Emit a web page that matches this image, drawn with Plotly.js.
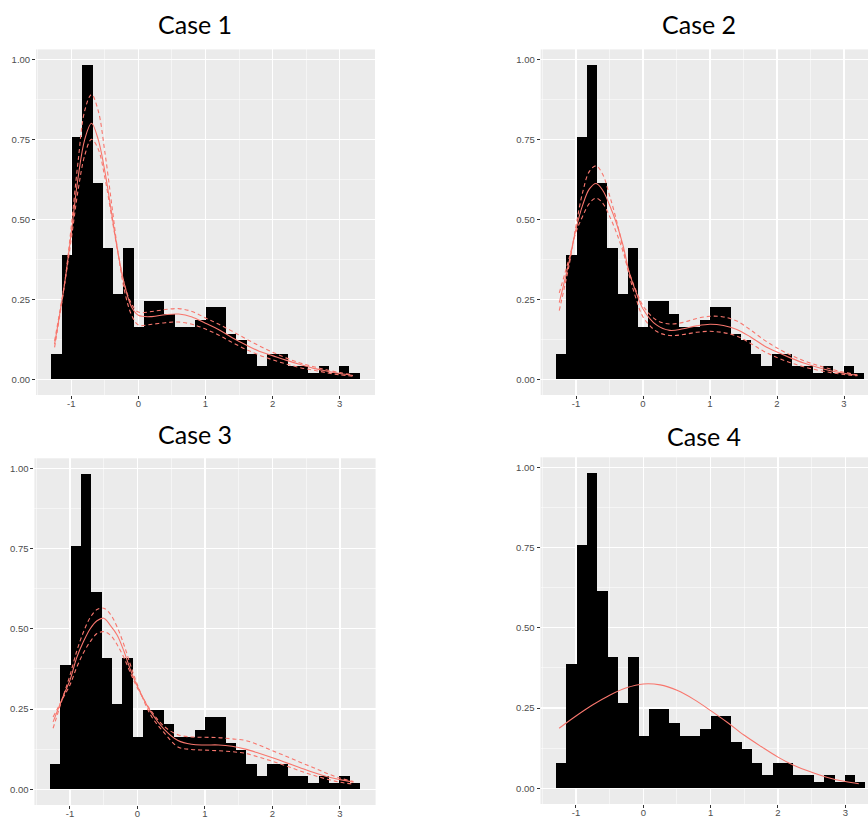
<!DOCTYPE html>
<html>
<head>
<meta charset="utf-8">
<script src="https://cdn.plot.ly/plotly-3.0.1.min.js"></script>
<style>html,body{margin:0;padding:0;background:#fff;}#chart{width:868px;height:818px;}</style>
</head>
<body>
<div id="chart"></div>
<script>
// Histogram (same data in every panel): 30 bins
const binStart = -1.297;
const binWidth = 0.1532;
const density = [0.080,0.388,0.758,0.982,0.614,0.409,0.266,0.409,0.164,0.246,0.246,0.203,0.164,0.164,0.185,0.226,0.226,0.143,0.122,0.080,0.041,0.080,0.080,0.041,0.041,0.020,0.041,0.020,0.041,0.020];

// Density curves (cases 1-3) sampled at these x values
const xs = [-1.25,-1.1,-1.0,-0.9,-0.8,-0.7,-0.6,-0.5,-0.4,-0.3,-0.2,-0.1,0,0.2,0.4,0.6,0.8,1.0,1.2,1.4,1.6,1.8,2.0,2.2,2.4,2.6,2.8,3.0,3.2];

const case1Fit   = [0.11,0.30,0.46,0.63,0.75,0.80,0.75,0.65,0.52,0.39,0.29,0.225,0.20,0.196,0.202,0.204,0.195,0.175,0.155,0.13,0.108,0.088,0.074,0.06,0.047,0.035,0.026,0.018,0.012];
const case1DashA = [0.10,0.30,0.48,0.68,0.84,0.89,0.84,0.71,0.55,0.39,0.27,0.20,0.17,0.172,0.177,0.179,0.172,0.157,0.138,0.115,0.094,0.076,0.061,0.048,0.037,0.029,0.021,0.014,0.010];
const case1DashB = [0.12,0.30,0.44,0.59,0.70,0.75,0.72,0.63,0.51,0.39,0.29,0.235,0.21,0.212,0.218,0.221,0.212,0.192,0.172,0.15,0.127,0.105,0.085,0.067,0.052,0.04,0.03,0.021,0.014];

const case2Fit   = [0.24,0.37,0.47,0.545,0.595,0.612,0.59,0.545,0.49,0.42,0.33,0.27,0.22,0.17,0.153,0.158,0.167,0.172,0.168,0.156,0.133,0.106,0.085,0.067,0.051,0.038,0.027,0.019,0.012];
const case2DashA = [0.215,0.36,0.48,0.585,0.65,0.667,0.64,0.575,0.50,0.41,0.32,0.25,0.195,0.15,0.137,0.14,0.147,0.15,0.146,0.135,0.113,0.088,0.068,0.052,0.039,0.029,0.021,0.015,0.011];
const case2DashB = [0.27,0.38,0.46,0.51,0.55,0.566,0.55,0.51,0.46,0.40,0.33,0.275,0.23,0.185,0.173,0.178,0.19,0.197,0.195,0.182,0.155,0.124,0.098,0.076,0.058,0.044,0.032,0.022,0.014];

const case3Fit   = [0.21,0.29,0.34,0.41,0.46,0.50,0.525,0.533,0.51,0.48,0.43,0.37,0.32,0.24,0.186,0.152,0.14,0.138,0.138,0.134,0.125,0.112,0.098,0.083,0.068,0.053,0.04,0.03,0.022];
const case3DashA = [0.19,0.29,0.355,0.43,0.49,0.535,0.56,0.564,0.545,0.505,0.45,0.385,0.325,0.23,0.175,0.132,0.124,0.122,0.12,0.117,0.112,0.1,0.087,0.073,0.058,0.044,0.032,0.022,0.016];
const case3DashB = [0.225,0.285,0.325,0.38,0.425,0.46,0.485,0.491,0.48,0.45,0.41,0.36,0.315,0.245,0.195,0.17,0.163,0.162,0.161,0.157,0.152,0.138,0.12,0.103,0.085,0.068,0.05,0.035,0.024];

// Case 4: single curve
const xs4 = [-1.25,-1,-0.75,-0.5,-0.25,0,0.25,0.5,0.75,1,1.25,1.5,1.75,2,2.25,2.5,2.75,3,3.2];
const case4Fit = [0.187,0.225,0.26,0.29,0.313,0.325,0.322,0.305,0.277,0.242,0.205,0.165,0.13,0.097,0.07,0.05,0.033,0.021,0.014];

const titles = ["Case 1","Case 2","Case 3","Case 4"];
const xTickVals = [-1,0,1,2,3];
const yTickVals = [0,0.25,0.5,0.75,1.0];

const RED = "#F8766D";
const binCenters = density.map((_, i) => binStart + binWidth * (i + 0.5));

const traces = [];
function addPanel(k, curves) {
  const xa = k === 1 ? "x" : "x" + k;
  const ya = k === 1 ? "y" : "y" + k;
  traces.push({
    type: "bar", x: binCenters, y: density, width: binWidth,
    marker: {color: "#000000", line: {width: 0}},
    xaxis: xa, yaxis: ya, hoverinfo: "skip", showlegend: false
  });
  curves.forEach(c => {
    traces.push({
      type: "scatter", mode: "lines", x: c.x, y: c.y,
      line: {color: RED, width: 1.1, shape: "spline", smoothing: 1, dash: c.dash ? "4px,3px" : "solid"},
      xaxis: xa, yaxis: ya, hoverinfo: "skip", showlegend: false
    });
  });
}
addPanel(1, [{x: xs, y: case1DashA, dash: true}, {x: xs, y: case1DashB, dash: true}, {x: xs, y: case1Fit}]);
addPanel(2, [{x: xs, y: case2DashA, dash: true}, {x: xs, y: case2DashB, dash: true}, {x: xs, y: case2Fit}]);
addPanel(3, [{x: xs, y: case3DashA, dash: true}, {x: xs, y: case3DashB, dash: true}, {x: xs, y: case3Fit}]);
addPanel(4, [{x: xs4, y: case4Fit}]);

const tickFont = {family: "Liberation Sans, Arial, sans-serif", size: 9.5, color: "#4D4D4D"};
function xAxis(domain, range, anchor) {
  return {
    domain: domain, range: range, anchor: anchor,
    tickvals: xTickVals, ticktext: xTickVals.map(String),
    showgrid: true, gridcolor: "#FFFFFF", gridwidth: 1.1,
    minor: {showgrid: true, gridcolor: "#FFFFFF", gridwidth: 0.5, tickvals: [-1.5,-0.5,0.5,1.5,2.5], ticks: ""},
    zeroline: false, showline: false,
    ticks: "outside", ticklen: 3, tickwidth: 1, tickcolor: "#333333",
    ticklabelstandoff: -3,
    tickfont: tickFont, fixedrange: true
  };
}
function yAxis(domain, anchor) {
  return {
    domain: domain, range: [-0.049, 1.031], anchor: anchor,
    tickvals: yTickVals, tickformat: ".2f",
    showgrid: true, gridcolor: "#FFFFFF", gridwidth: 1.1,
    minor: {showgrid: true, gridcolor: "#FFFFFF", gridwidth: 0.5, tickvals: [0.125,0.375,0.625,0.875], ticks: ""},
    zeroline: false, showline: false,
    ticks: "outside", ticklen: 3, tickwidth: 1, tickcolor: "#333333",
    tickfont: tickFont, fixedrange: true
  };
}

const W = 868, H = 818;
const titleFont = {family: "Lato, 'Open Sans', sans-serif", size: 25, color: "#000000"};
const titlePos = [[195, 24], [699, 24], [195, 434], [704, 436]];

const layout = {
  width: W, height: H,
  margin: {l: 0, r: 0, t: 0, b: 0},
  paper_bgcolor: "#FFFFFF", plot_bgcolor: "#EBEBEB",
  bargap: 0, barmode: "overlay", showlegend: false,
  xaxis:  xAxis([36/W, 375/W], [-1.527, 3.528], "y"),
  yaxis:  yAxis([(H-395)/H, (H-49.4)/H], "x"),
  xaxis2: xAxis([540.7/W, 1], [-1.527, 3.358], "y2"),
  yaxis2: yAxis([(H-395)/H, (H-49.4)/H], "x2"),
  xaxis3: xAxis([34.4/W, 375.6/W], [-1.527, 3.528], "y3"),
  yaxis3: yAxis([(H-805)/H, (H-458.3)/H], "x3"),
  xaxis4: xAxis([540.5/W, 1], [-1.527, 3.337], "y4"),
  yaxis4: yAxis([(H-804)/H, (H-457.3)/H], "x4"),
  annotations: titles.map((t, i) => ({
    text: t, xref: "paper", yref: "paper",
    x: titlePos[i][0] / W, y: (H - titlePos[i][1]) / H,
    xanchor: "center", yanchor: "middle", showarrow: false, font: titleFont
  }))
};

Plotly.newPlot("chart", traces, layout, {displayModeBar: false, staticPlot: true});
</script>
</body>
</html>
